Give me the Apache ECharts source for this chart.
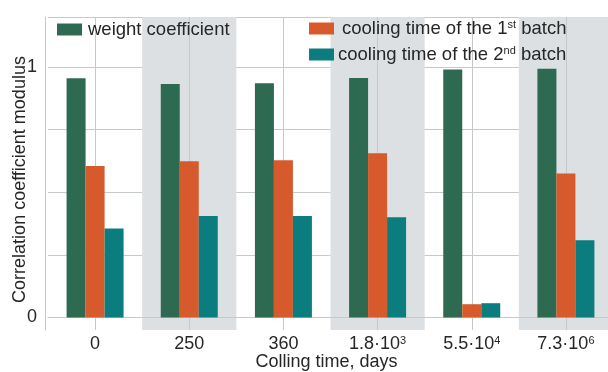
<!DOCTYPE html>
<html>
<head>
<meta charset="utf-8">
<script src="https://cdn.jsdelivr.net/npm/echarts@6/dist/echarts.min.js"></script>
<style>
  html, body { margin: 0; padding: 0; background: #fff; }
  #chart { width: 608px; height: 372px; }
</style>
</head>
<body>
<div id="chart"></div>
<script>
// Cooling-time categories; "^n" marks a superscript exponent
const categories = ['0', '250', '360', '1.8·10^3', '5.5·10^4', '7.3·10^6'];

// Correlation coefficient modulus per cooling time
const weightCoefficient = [0.955, 0.932, 0.935, 0.956, 0.99, 0.993];
const coolingBatch1 = [0.605, 0.624, 0.628, 0.656, 0.053, 0.575];
const coolingBatch2 = [0.355, 0.405, 0.405, 0.40, 0.057, 0.308];

// Y gridlines and labelled ticks
const yGridValues = [0, 0.25, 0.5, 0.75, 1, 1.2];
const yLabelValues = [0, 1];

const seriesNames = ['weight coefficient', 'cooling time of the 1st batch', 'cooling time of the 2nd batch'];
const colors = ['#2e6a52', '#d65a2b', '#0c7d7e'];

const FONT = '"Liberation Sans", Arial, Helvetica, sans-serif';
const TEXT = '#262626';
const GRID_LINE = '#c6c9cc';

function supText(s) {
  return s.replace(/\^(\d+)/g, '{s|$1}').replace(/(\d)(st|nd|rd|th)\b/g, '$1{s|$2}');
}

const supRich = {
  s: { fontSize: 11, fontFamily: FONT, color: TEXT, verticalAlign: 'top', lineHeight: 11 }
};

function legendOf(name, left, top, textPad) {
  return {
    data: [name],
    left: left, top: top,
    icon: 'rect', itemWidth: 25, itemHeight: 12, itemGap: 0,
    padding: 0,
    selectedMode: false,
    formatter: supText,
    textStyle: {
      fontFamily: FONT, fontSize: 18.5, color: TEXT, padding: [0, 0, 0, textPad],
      rich: supRich
    }
  };
}

const chart = echarts.init(document.getElementById('chart'), null, { renderer: 'canvas' });

chart.setOption({
  animation: false,
  backgroundColor: '#fff',
  color: colors,
  textStyle: { fontFamily: FONT },
  grid: { left: 48, right: -5, top: 17, bottom: 42, outerBoundsMode: 'none', containLabel: false },
  legend: [
    legendOf(seriesNames[0], 57, 20, 1),
    legendOf(seriesNames[1], 309, 19, 3),
    legendOf(seriesNames[2], 309, 45, -1)
  ],
  xAxis: {
    type: 'category',
    data: categories,
    boundaryGap: true,
    name: 'Colling time, days',
    nameLocation: 'middle',
    nameGap: 23,
    nameMoveOverlap: false,
    nameTextStyle: { fontFamily: FONT, fontSize: 18, color: TEXT, padding: [0, 8, 0, 0] },
    axisLine: { show: true, lineStyle: { color: GRID_LINE, width: 1 } },
    axisTick: { show: false },
    axisLabel: {
      interval: 0, margin: 5,
      fontFamily: FONT, fontSize: 18, color: TEXT,
      formatter: supText,
      rich: supRich
    },
    splitLine: { show: true, interval: 0, alignWithLabel: true, lineStyle: { color: GRID_LINE, width: 1 } },
    splitArea: { show: true, interval: 0, areaStyle: { color: ['rgba(0,0,0,0)', '#dce0e3'] } }
  },
  yAxis: {
    type: 'value',
    min: -0.05,
    max: 1.2,
    offset: 3,
    name: 'Correlation coefficient modulus',
    nameLocation: 'middle',
    nameGap: 16,
    nameMoveOverlap: false,
    nameTextStyle: { fontFamily: FONT, fontSize: 18, color: TEXT, padding: [0, 12, 0, 0] },
    axisLine: { show: true, lineStyle: { color: GRID_LINE, width: 1 } },
    axisTick: { show: false, customValues: yGridValues },
    axisLabel: {
      customValues: yLabelValues,
      margin: 8,
      fontFamily: FONT, fontSize: 18, color: TEXT
    },
    splitLine: { show: true, lineStyle: { color: GRID_LINE, width: 1 } }
  },
  series: [
    { name: seriesNames[0], type: 'bar', data: weightCoefficient, barWidth: 19, barGap: '0%' },
    { name: seriesNames[1], type: 'bar', data: coolingBatch1, barWidth: 19, barGap: '0%' },
    { name: seriesNames[2], type: 'bar', data: coolingBatch2, barWidth: 19, barGap: '0%' }
  ]
});
</script>
</body>
</html>
